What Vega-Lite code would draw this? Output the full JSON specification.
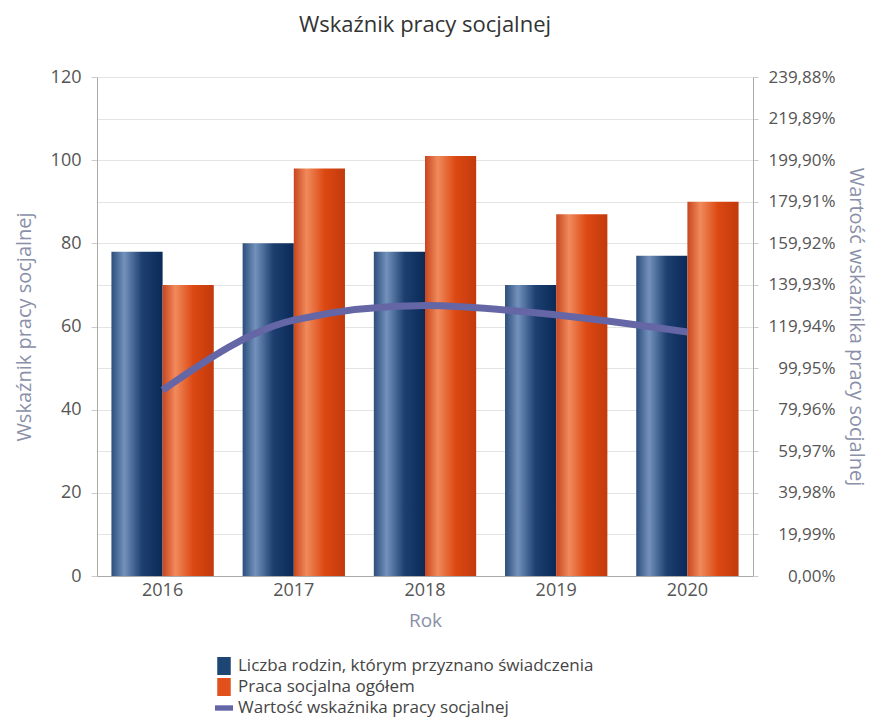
{
  "$schema": "https://vega.github.io/schema/vega-lite/v6.json",
  "width": 656,
  "height": 499,
  "autosize": {"type": "none"},
  "padding": {"left": 97, "top": 77, "right": 125, "bottom": 150},
  "background": "white",
  "config": {
    "font": "Open Sans",
    "view": {"stroke": null},
    "axis": {"labelFont": "Open Sans", "titleFont": "Open Sans", "titleFontWeight": "normal", "labelColor": "#555555", "titleColor": "#8a90a8", "labelFontSize": 17, "titleFontSize": 20, "domainColor": "#aaaaaa", "tickColor": "#cccccc", "gridColor": "#e4e4e4"}
  },
  "title": {"text": "Wskaźnik pracy socjalnej", "fontSize": 22, "fontWeight": "normal", "color": "#333333", "offset": 31, "font": "Open Sans"},
  "layer": [
    {
      "data": {"values": [
        {"rok": "2016", "seria": "Liczba rodzin, którym przyznano świadczenia", "wartosc": 78},
        {"rok": "2016", "seria": "Praca socjalna ogółem", "wartosc": 70},
        {"rok": "2017", "seria": "Liczba rodzin, którym przyznano świadczenia", "wartosc": 80},
        {"rok": "2017", "seria": "Praca socjalna ogółem", "wartosc": 98},
        {"rok": "2018", "seria": "Liczba rodzin, którym przyznano świadczenia", "wartosc": 78},
        {"rok": "2018", "seria": "Praca socjalna ogółem", "wartosc": 101},
        {"rok": "2019", "seria": "Liczba rodzin, którym przyznano świadczenia", "wartosc": 70},
        {"rok": "2019", "seria": "Praca socjalna ogółem", "wartosc": 87},
        {"rok": "2020", "seria": "Liczba rodzin, którym przyznano świadczenia", "wartosc": 77},
        {"rok": "2020", "seria": "Praca socjalna ogółem", "wartosc": 90}
      ]},
      "mark": {"type": "bar"},
      "encoding": {
        "x": {"field": "rok", "type": "nominal", "scale": {"paddingInner": 0.22, "paddingOuter": 0.11},
          "axis": {"title": "Rok", "labelAngle": 0, "ticks": false, "labelFontSize": 18, "labelPadding": 5, "titleFontSize": 19, "titlePadding": 12, "domainColor": "#aaaaaa"}},
        "xOffset": {"field": "seria", "type": "nominal", "sort": ["Liczba rodzin, którym przyznano świadczenia", "Praca socjalna ogółem"], "scale": {"paddingInner": 0, "paddingOuter": 0}},
        "y": {"field": "wartosc", "type": "quantitative", "scale": {"domain": [0, 120], "nice": false},
          "axis": {"title": "Wskaźnik pracy socjalnej", "values": [0, 20, 40, 60, 80, 100, 120], "grid": false, "tickSize": 6, "labelPadding": 10, "titlePadding": 16, "labelFontSize": 18}},
        "fill": {
          "condition": {"test": "datum.seria == 'Praca socjalna ogółem'", "value": {"gradient": "linear", "x1": 0, "x2": 1, "y1": 0, "y2": 0, "stops": [{"offset": 0, "color": "#c8461f"}, {"offset": 0.25, "color": "#f08a5c"}, {"offset": 0.6, "color": "#dc4812"}, {"offset": 1, "color": "#c23a0c"}]}},
          "value": {"gradient": "linear", "x1": 0, "x2": 1, "y1": 0, "y2": 0, "stops": [{"offset": 0, "color": "#2c4e7c"}, {"offset": 0.25, "color": "#7391bb"}, {"offset": 0.6, "color": "#1c3f70"}, {"offset": 1, "color": "#0a2a57"}]}
        }
      }
    },
    {
      "data": {"values": [
        {"rok": "2016", "wskaznik": 89.4},
        {"rok": "2017", "wskaznik": 123.0},
        {"rok": "2018", "wskaznik": 130.0},
        {"rok": "2019", "wskaznik": 125.5},
        {"rok": "2020", "wskaznik": 117.3}
      ]},
      "mark": {"type": "line", "strokeWidth": 7, "interpolate": "monotone"},
      "encoding": {
        "x": {"field": "rok", "type": "nominal"},
        "y": {"field": "wskaznik", "type": "quantitative", "scale": {"domain": [0, 239.88], "nice": false},
          "axis": {"orient": "right", "title": "Wartość wskaźnika pracy socjalnej", "titleAngle": 90, "values": [0, 19.99, 39.98, 59.97, 79.96, 99.95, 119.94, 139.93, 159.92, 179.91, 199.9, 219.89, 239.88],
            "labelExpr": "replace(format(datum.value, '.2f'), '.', ',') + '%'", "grid": true, "tickSize": 5, "labelAlign": "right", "labelPadding": 77, "titlePadding": 10, "labelFontSize": 17}},
        "color": {"datum": "Wartość wskaźnika pracy socjalnej",
          "scale": {"domain": ["Liczba rodzin, którym przyznano świadczenia", "Praca socjalna ogółem", "Wartość wskaźnika pracy socjalnej"], "range": ["#1d4675", "#e2501c", "#6466a6"]},
          "legend": {"orient": "none", "legendX": 118, "legendY": 580, "title": null, "direction": "vertical", "labelFontSize": 17, "labelColor": "#444444", "labelFont": "Open Sans", "labelLimit": 600, "symbolSize": 324, "rowPadding": 3, "labelOffset": 5,
            "encode": {"symbols": {"update": {
              "shape": {"signal": "datum.label == 'Wartość wskaźnika pracy socjalnej' ? 'M-1,-0.3H1V0.3H-1Z' : 'M-0.75,-1H0.75V1H-0.75Z'"},
              "fill": {"scale": "color", "field": "value"},
              "fillOpacity": {"value": 1},
              "stroke": {"value": "transparent"},
              "strokeWidth": {"value": 0},
              "opacity": {"value": 1}}}}}}
      }
    }
  ],
  "resolve": {"scale": {"y": "independent"}}
}
